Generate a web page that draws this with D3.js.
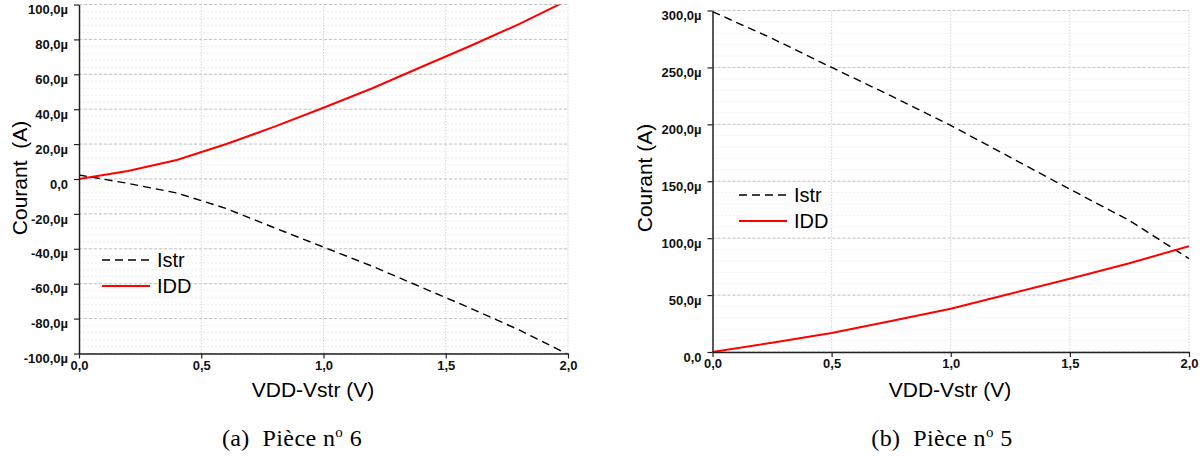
<!DOCTYPE html>
<html>
<head>
<meta charset="utf-8">
<script src="https://cdn.jsdelivr.net/npm/d3@7"></script>
<style>
  body { margin: 0; background: #fff; }
  svg { display: block; }
</style>
</head>
<body>
<script>
'use strict';

const W = 1203;
const H = 456;

// (a) Pièce n° 6
const xA = [0, 0.2, 0.4, 0.6, 0.8, 1.0, 1.2, 1.4, 1.6, 1.8, 2.0];
const iddA = [0, 4.6, 10.9, 19.9, 30.0, 40.8, 52.0, 64.2, 76.2, 88.8, 102.5];
const istrA = [2.3, -2.5, -8.0, -16.8, -28.0, -39.0, -50.0, -62.0, -74.0, -86.5, -100.5];
const yTicksA = [-100, -80, -60, -40, -20, 0, 20, 40, 60, 80, 100];

// (b) Pièce n° 5
const xB = [0, 0.25, 0.5, 0.75, 1.0, 1.25, 1.5, 1.75, 2.0];
const iddB = [0, 8.2, 16.7, 27.2, 38.0, 51.2, 64.3, 78.0, 93.0];
const istrB = [299, 275.5, 250, 225, 199, 171, 143, 115.5, 82];
const yTicksB = [0, 50, 100, 150, 200, 250, 300];

const xTicks = [0, 0.5, 1.0, 1.5, 2.0];
const seriesNames = ['Istr', 'IDD'];

const svg = d3.select('body').append('svg').attr('width', W).attr('height', H);

const fmtY = (v) => v === 0 ? '0,0' : v.toFixed(1).replace('.', ',') + 'µ';
const fmtX = (v) => v.toFixed(1).replace('.', ',');

function panel(o) {
  const x = d3.scaleLinear().domain([0, 2]).range(o.xr);
  const y = d3.scaleLinear().domain(o.yd).range(o.yr);
  const g = svg.append('g');
  const minorY = d3.range(o.yd[0], o.yd[1] + 0.001, o.minor);
  const minorX = d3.range(0, 2.001, 0.1);

  // grid: faint minor lines, then dashed majors
  g.selectAll('.gm').data(minorY).enter().append('line')
    .attr('x1', o.xr[0]).attr('x2', o.xr[1])
    .attr('y1', (d) => y(d)).attr('y2', (d) => y(d))
    .attr('stroke', '#ececec').attr('stroke-dasharray', '2,2');
  g.selectAll('.gM').data(o.yTicks).enter().append('line')
    .attr('x1', o.xr[0]).attr('x2', o.xr[1])
    .attr('y1', (d) => y(d)).attr('y2', (d) => y(d))
    .attr('stroke', '#c4c4c4').attr('stroke-dasharray', '3,2');
  g.selectAll('.gx').data(xTicks.slice(1)).enter().append('line')
    .attr('x1', (d) => x(d)).attr('x2', (d) => x(d))
    .attr('y1', o.yr[0]).attr('y2', o.yr[1])
    .attr('stroke', '#d4d4d4').attr('stroke-dasharray', '1.5,1.5');

  // curves, clipped to the plot
  const clipId = 'clip' + o.id;
  svg.append('clipPath').attr('id', clipId).append('rect')
    .attr('x', o.xr[0]).attr('y', o.yr[1])
    .attr('width', o.xr[1] - o.xr[0]).attr('height', o.yr[0] - o.yr[1]);
  const line = d3.line().x((d) => x(d[0])).y((d) => y(d[1]));
  const c = g.append('g').attr('clip-path', `url(#${clipId})`);
  c.append('path').datum(d3.zip(o.xs, o.istr)).attr('d', line)
    .attr('fill', 'none').attr('stroke', '#000').attr('stroke-width', 1.4)
    .attr('stroke-dasharray', '8,5');
  c.append('path').datum(d3.zip(o.xs, o.idd)).attr('d', line)
    .attr('fill', 'none').attr('stroke', '#ff0000').attr('stroke-width', 2);

  // axes
  const axY = g.append('g').attr('transform', `translate(${o.xr[0]},0)`);
  axY.call(d3.axisLeft(y).tickValues(minorY).tickSize(3).tickFormat(''));
  axY.call(d3.axisLeft(y).tickValues(o.yTicks).tickSize(5).tickFormat(fmtY).tickSizeOuter(0));
  const axX = g.append('g').attr('transform', `translate(0,${o.yr[0]})`);
  axX.call(d3.axisBottom(x).tickValues(minorX).tickSize(3).tickFormat(''));
  axX.call(d3.axisBottom(x).tickValues(xTicks).tickSize(5).tickFormat(fmtX).tickSizeOuter(0));
  g.selectAll('.domain').attr('stroke', '#222').attr('stroke-width', 1.5);
  g.selectAll('.tick line').attr('stroke', '#222').attr('stroke-width', 1.2);
  g.selectAll('.tick text')
    .attr('font-family', 'Liberation Sans, Arial, sans-serif')
    .attr('font-weight', 'bold').attr('font-size', 13).attr('fill', '#111');
  axY.selectAll('.tick text').attr('x', -11).attr('dy', '0.7em');
  axX.selectAll('.tick text').attr('y', 7).attr('dy', '0.72em');

  // titles
  g.append('text').text(o.ylabel)
    .attr('transform', `translate(${o.ylx},${o.yly}) rotate(-90)`)
    .attr('text-anchor', 'middle').attr('xml:space', 'preserve')
    .attr('font-family', 'Liberation Sans, Arial, sans-serif').attr('font-size', 21);
  g.append('text').text('VDD-Vstr (V)')
    .attr('x', o.xlx).attr('y', 397).attr('text-anchor', 'middle')
    .attr('font-family', 'Liberation Sans, Arial, sans-serif').attr('font-size', 21);

  // legend
  const lg = g.append('g').attr('transform', `translate(${o.lx},${o.ly})`);
  seriesNames.forEach((name, i) => {
    lg.append('line').attr('x1', 0).attr('x2', 48).attr('y1', i * 26).attr('y2', i * 26)
      .attr('stroke', i === 0 ? '#000' : '#ff0000')
      .attr('stroke-width', i === 0 ? 1.4 : 2)
      .attr('stroke-dasharray', i === 0 ? '8,5' : null);
    lg.append('text').text(name).attr('x', 55).attr('y', i * 26 + 7)
      .attr('font-family', 'Liberation Sans, Arial, sans-serif').attr('font-size', 20);
  });

  // caption
  const cap = g.append('text').attr('x', o.capx).attr('y', 446).attr('text-anchor', 'middle')
    .attr('font-family', 'Liberation Serif, Times New Roman, serif').attr('font-size', 24)
    .attr('letter-spacing', 0.4).attr('xml:space', 'preserve');
  cap.append('tspan').text(o.caption[0] + '  Pièce n');
  cap.append('tspan').text('o').attr('font-size', 15).attr('dy', -9);
  cap.append('tspan').text(' ' + o.caption[1]).attr('dy', 9);
}

panel({
  id: 'a', xr: [79, 568], yd: [-100, 100], yr: [353.5, 4.5], minor: 4,
  yTicks: yTicksA, xs: xA, idd: iddA, istr: istrA,
  ylabel: 'Courant  (A)', ylx: 27, yly: 178, xlx: 313,
  lx: 102, ly: 260, capx: 292, caption: ['(a)', '6']
});

panel({
  id: 'b', xr: [712.5, 1189], yd: [0, 300], yr: [352, 10.5], minor: 10,
  yTicks: yTicksB, xs: xB, idd: iddB, istr: istrB,
  ylabel: 'Courant (A)', ylx: 652, yly: 178, xlx: 950,
  lx: 739, ly: 195, capx: 942, caption: ['(b)', '5']
});
</script>
</body>
</html>
